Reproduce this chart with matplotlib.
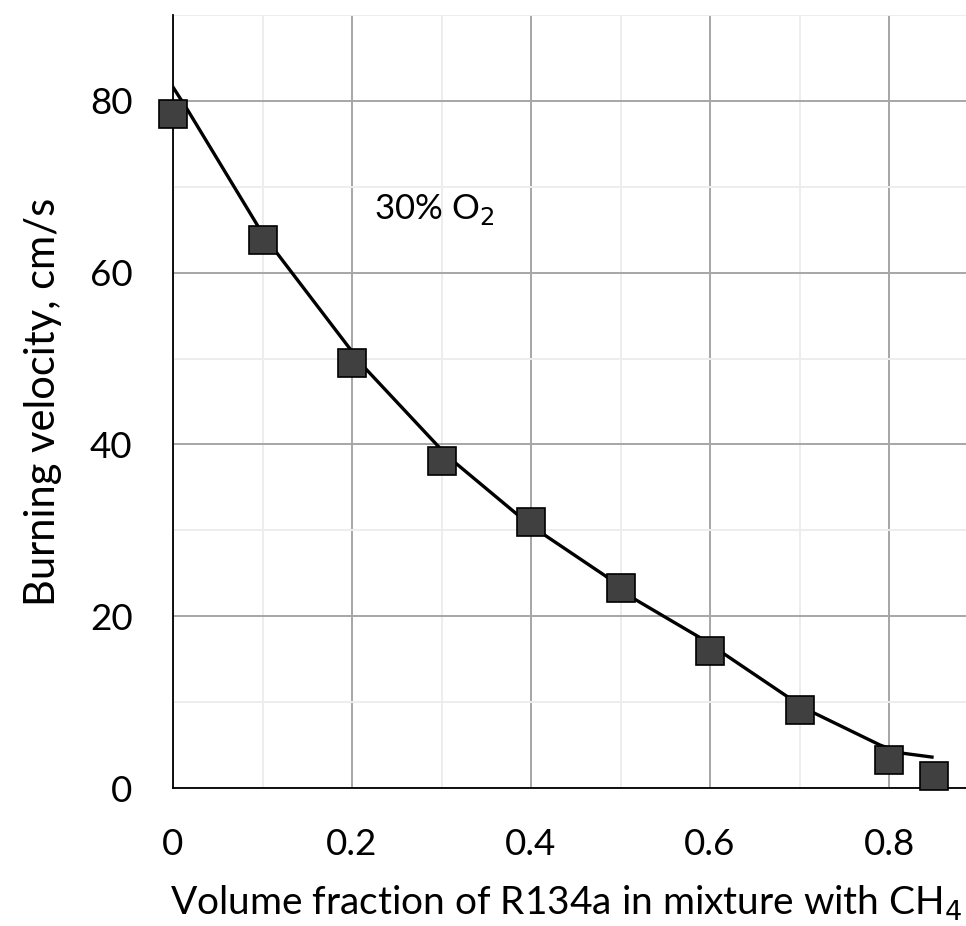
import matplotlib
matplotlib.use("Agg")
import matplotlib.pyplot as plt
from matplotlib.ticker import MultipleLocator

# measured burning velocities, 30% O2 oxidizer
frac = [0.0, 0.1, 0.2, 0.3, 0.4, 0.5, 0.6, 0.7, 0.8, 0.85]
su = [78.5, 63.8, 49.5, 38.1, 31.0, 23.3, 16.0, 9.1, 3.3, 1.4]

# fitted trend curve
trend_x = [0.0, 0.016, 0.095, 0.116, 0.198, 0.2145, 0.298, 0.315, 0.384,
           0.416, 0.483, 0.514, 0.589, 0.6145, 0.687, 0.715, 0.790, 0.8145,
           0.848]
trend_y = [81.6, 79.0, 65.4, 62.3, 51.1, 48.9, 39.6, 37.9, 31.9,
           29.4, 24.7, 22.1, 17.5, 15.7, 10.6, 8.8, 5.0, 4.06,
           3.6]

plt.rcParams["font.family"] = ["Lato", "DejaVu Sans"]

W, H = 966, 926
fig = plt.figure(figsize=(W / 100, H / 100), dpi=100)
x0, x1, y0, y1 = 173, 978.5, 788, 15
ax = fig.add_axes([x0 / W, 1 - y0 / H, (x1 - x0) / W, (y0 - y1) / H])

ax.set_xlim(0, 0.9)
ax.set_ylim(0, 90)
ax.xaxis.set_major_locator(MultipleLocator(0.2))
ax.xaxis.set_minor_locator(MultipleLocator(0.1))
ax.yaxis.set_major_locator(MultipleLocator(20))
ax.yaxis.set_minor_locator(MultipleLocator(10))
ax.grid(which="major", color="#a6a6a6", lw=1.4, zorder=0)
ax.grid(which="minor", color="#ededed", lw=1.4, zorder=0)
ax.set_xticks([0, 0.2, 0.4, 0.6, 0.8], ["0", "0.2", "0.4", "0.6", "0.8"])
ax.tick_params(which="both", length=0, labelsize=26.5, colors="black")
ax.tick_params(axis="x", pad=29)
ax.tick_params(axis="y", pad=29)
for s in ("top", "right"):
    ax.spines[s].set_visible(False)
for s in ("left", "bottom"):
    ax.spines[s].set_color("black")
    ax.spines[s].set_linewidth(1.3)

ax.plot(trend_x, trend_y, color="black", lw=2.4, zorder=3,
        solid_joinstyle="round")
ax.plot(frac, su, ls="none", marker="s", ms=20, mfc="#404040", mec="black",
        mew=1.2, zorder=4, clip_on=False)

ax.text(0.225, 66.2, "30% O$_2$", fontsize=25, va="baseline", ha="left")
ax.set_ylabel("Burning velocity, cm/s", fontsize=30, labelpad=20)

# x label sits right-aligned under the plot, against the figure edge
xl = ax.set_xlabel("Volume fraction of R134a in mixture with CH$_4$",
                   fontsize=28)
xl.set_ha("right")
xl.set_va("baseline")
ax.xaxis.set_label_coords((962 - x0) / (x1 - x0), -(915 - y0) / (y0 - y1))

fig.savefig("out.png", dpi=100)
